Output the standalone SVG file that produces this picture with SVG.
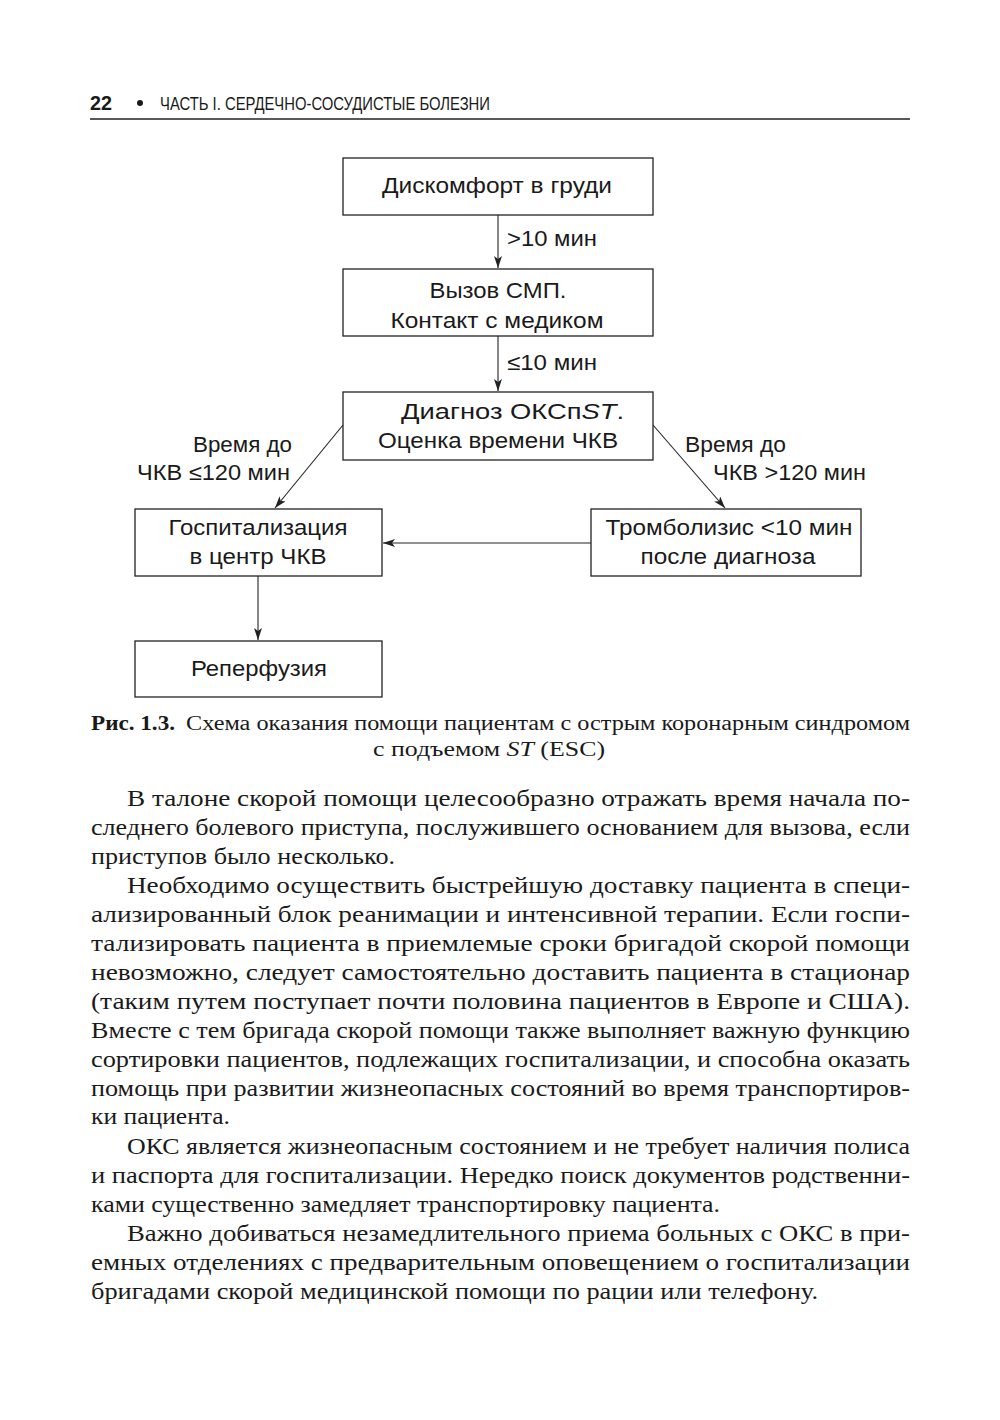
<svg xmlns="http://www.w3.org/2000/svg" width="1000" height="1420" viewBox="0 0 1000 1420">
<defs>
<marker id="ah" viewBox="0 0 12 8" refX="12" refY="4" markerWidth="12" markerHeight="8" markerUnits="userSpaceOnUse" orient="auto">
<path d="M0,0 L12,4 L0,8 L3,4 Z" fill="#222"/>
</marker>
<style>
.box{fill:#fff;stroke:#222;stroke-width:1.3}
.t{font-family:"Liberation Sans",Arial,sans-serif;font-size:22px;fill:#1a1a1a}
.c{text-anchor:middle}
.con{stroke:#222;stroke-width:1.1;fill:none;marker-end:url(#ah)}
.b{font-family:"Liberation Serif","Times New Roman",serif;font-size:24px;fill:#1a1a1a}
.cap{font-family:"Liberation Serif","Times New Roman",serif;font-size:20px;fill:#1a1a1a}
.hd{font-family:"Liberation Sans Narrow","Liberation Sans",Arial,sans-serif;fill:#1a1a1a}
</style>
</defs>
<rect width="1000" height="1420" fill="#fff"/>

<g id="header">
<text class="hd" x="90" y="110" font-size="20" font-weight="bold" textLength="22" lengthAdjust="spacingAndGlyphs">22</text>
<circle cx="140" cy="103" r="3" fill="#1a1a1a"/>
<text class="hd" x="160" y="110" font-size="18" textLength="330" lengthAdjust="spacingAndGlyphs">ЧАСТЬ I. СЕРДЕЧНО-СОСУДИСТЫЕ БОЛЕЗНИ</text>
<line x1="90" y1="119" x2="910" y2="119" stroke="#222" stroke-width="1.3"/>
</g>

<g id="connectors">
<line class="con" x1="498" y1="215" x2="498" y2="268"/>
<line class="con" x1="498" y1="336" x2="498" y2="391"/>
<line class="con" x1="343" y1="425" x2="275" y2="508"/>
<line class="con" x1="653" y1="425" x2="725" y2="508"/>
<line class="con" x1="591" y1="543" x2="383" y2="543"/>
<line class="con" x1="258" y1="576" x2="258" y2="640"/>
<text class="t" x="507" y="246" textLength="90" lengthAdjust="spacingAndGlyphs">&gt;10 мин</text>
<text class="t" x="507" y="370" textLength="90" lengthAdjust="spacingAndGlyphs">≤10 мин</text>
<text class="t" x="193" y="452" textLength="99" lengthAdjust="spacingAndGlyphs">Время до</text>
<text class="t" x="137" y="480" textLength="153" lengthAdjust="spacingAndGlyphs">ЧКВ ≤120 мин</text>
<text class="t" x="685" y="452" textLength="101" lengthAdjust="spacingAndGlyphs">Время до</text>
<text class="t" x="713" y="480" textLength="153" lengthAdjust="spacingAndGlyphs">ЧКВ &gt;120 мин</text>
</g>

<g id="n1">
<rect class="box" x="343" y="158" width="310" height="57"/>
<text class="t c" x="497" y="193" textLength="230" lengthAdjust="spacingAndGlyphs">Дискомфорт в груди</text>
</g>
<g id="n2">
<rect class="box" x="343" y="269" width="310" height="67"/>
<text class="t c" x="498" y="298" textLength="137" lengthAdjust="spacingAndGlyphs">Вызов СМП.</text>
<text class="t c" x="497" y="328" textLength="213" lengthAdjust="spacingAndGlyphs">Контакт с медиком</text>
</g>
<g id="n3">
<rect class="box" x="343" y="392" width="310" height="68"/>
<text class="t" x="401" y="419" textLength="223" lengthAdjust="spacingAndGlyphs">Диагноз ОКСп<tspan font-style="italic">ST</tspan>.</text>
<text class="t c" x="498" y="448" textLength="240" lengthAdjust="spacingAndGlyphs">Оценка времени ЧКВ</text>
</g>
<g id="n4">
<rect class="box" x="135" y="509" width="247" height="67"/>
<text class="t c" x="258" y="535" textLength="179" lengthAdjust="spacingAndGlyphs">Госпитализация</text>
<text class="t c" x="258" y="564" textLength="137" lengthAdjust="spacingAndGlyphs">в центр ЧКВ</text>
</g>
<g id="n5">
<rect class="box" x="591" y="509" width="270" height="67"/>
<text class="t c" x="729" y="535" textLength="247" lengthAdjust="spacingAndGlyphs">Тромболизис &lt;10 мин</text>
<text class="t c" x="728" y="564" textLength="175" lengthAdjust="spacingAndGlyphs">после диагноза</text>
</g>
<g id="n6">
<rect class="box" x="135" y="641" width="247" height="56"/>
<text class="t c" x="259" y="676" textLength="136" lengthAdjust="spacingAndGlyphs">Реперфузия</text>
</g>

<g id="caption">
<text class="cap" x="91" y="730" font-weight="bold" textLength="84" lengthAdjust="spacingAndGlyphs">Рис. 1.3.</text>
<text class="cap" x="186" y="730" textLength="724" lengthAdjust="spacingAndGlyphs">Схема оказания помощи пациентам с острым коронарным синдромом</text>
<text class="cap" x="373" y="756" textLength="232" lengthAdjust="spacingAndGlyphs">с подъемом <tspan font-style="italic">ST</tspan> (ESC)</text>
</g>

<g id="body">
<text class="b" x="127" y="806" textLength="783" lengthAdjust="spacingAndGlyphs">В талоне скорой помощи целесообразно отражать время начала по-</text>
<text class="b" x="91" y="835" textLength="819" lengthAdjust="spacingAndGlyphs">следнего болевого приступа, послужившего основанием для вызова, если</text>
<text class="b" x="91" y="864" textLength="304" lengthAdjust="spacingAndGlyphs">приступов было несколько.</text>
<text class="b" x="127" y="893" textLength="783" lengthAdjust="spacingAndGlyphs">Необходимо осуществить быстрейшую доставку пациента в специ-</text>
<text class="b" x="91" y="922" textLength="819" lengthAdjust="spacingAndGlyphs">ализированный блок реанимации и интенсивной терапии. Если госпи-</text>
<text class="b" x="91" y="951" textLength="819" lengthAdjust="spacingAndGlyphs">тализировать пациента в приемлемые сроки бригадой скорой помощи</text>
<text class="b" x="91" y="980" textLength="819" lengthAdjust="spacingAndGlyphs">невозможно, следует самостоятельно доставить пациента в стационар</text>
<text class="b" x="91" y="1009" textLength="819" lengthAdjust="spacingAndGlyphs">(таким путем поступает почти половина пациентов в Европе и США).</text>
<text class="b" x="91" y="1038" textLength="819" lengthAdjust="spacingAndGlyphs">Вместе с тем бригада скорой помощи также выполняет важную функцию</text>
<text class="b" x="91" y="1067" textLength="819" lengthAdjust="spacingAndGlyphs">сортировки пациентов, подлежащих госпитализации, и способна оказать</text>
<text class="b" x="91" y="1096" textLength="819" lengthAdjust="spacingAndGlyphs">помощь при развитии жизнеопасных состояний во время транспортиров-</text>
<text class="b" x="91" y="1124" textLength="139" lengthAdjust="spacingAndGlyphs">ки пациента.</text>
<text class="b" x="127" y="1154" textLength="783" lengthAdjust="spacingAndGlyphs">ОКС является жизнеопасным состоянием и не требует наличия полиса</text>
<text class="b" x="91" y="1183" textLength="819" lengthAdjust="spacingAndGlyphs">и паспорта для госпитализации. Нередко поиск документов родственни-</text>
<text class="b" x="91" y="1212" textLength="629" lengthAdjust="spacingAndGlyphs">ками существенно замедляет транспортировку пациента.</text>
<text class="b" x="127" y="1241" textLength="783" lengthAdjust="spacingAndGlyphs">Важно добиваться незамедлительного приема больных с ОКС в при-</text>
<text class="b" x="91" y="1270" textLength="819" lengthAdjust="spacingAndGlyphs">емных отделениях с предварительным оповещением о госпитализации</text>
<text class="b" x="91" y="1299" textLength="727" lengthAdjust="spacingAndGlyphs">бригадами скорой медицинской помощи по рации или телефону.</text>
</g>
</svg>
